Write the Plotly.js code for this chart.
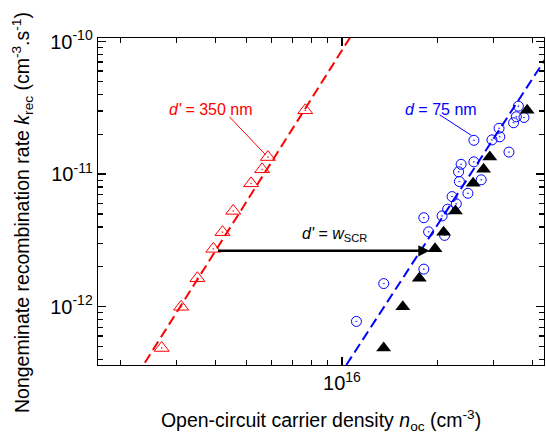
<!DOCTYPE html>
<html><head><meta charset="utf-8">
<script src="https://cdn.plot.ly/plotly-3.0.1.min.js"></script>
<style>html,body{margin:0;padding:0;background:#fff}#chart{width:546px;height:439px}</style>
</head><body><div id="chart"></div>
<script>
// recombination rate (shared by red and black triangle series)
const kRec = [4.88e-13, 9.98e-13, 1.64e-12, 2.73e-12, 3.65e-12, 5.28e-12, 8.52e-12, 1.087e-11, 1.345e-11, 3.03e-11];
// d' = 350 nm (red open triangles)
const nOcThick = [2.70e15, 3.11e15, 3.50e15, 3.93e15, 4.20e15, 4.54e15, 5.17e15, 5.60e15, 5.84e15, 7.66e15];
// d' = w_SCR (black filled triangles)
const nOcScr = [1.354e16, 1.556e16, 1.754e16, 1.967e16, 2.093e16, 2.281e16, 2.593e16, 2.798e16, 2.927e16, 3.840e16];
// d = 75 nm (blue open circles)
const nOcThin = [3.603e16, 3.550e16, 3.752e16, 3.479e16, 3.365e16, 3.131e16, 3.148e16, 2.974e16, 2.608e16, 2.608e16,
                 2.377e16, 2.333e16, 2.347e16, 2.750e16, 2.497e16, 2.226e16, 2.295e16, 2.155e16, 2.070e16, 1.813e16,
                 1.877e16, 2.108e16, 1.813e16, 1.355e16, 1.111e16];
const kRecThin = [3.257e-11, 2.708e-11, 2.676e-11, 2.441e-11, 1.466e-11, 2.218e-11, 1.913e-11, 1.812e-11, 1.799e-11, 1.238e-11,
                  1.186e-11, 1.041e-11, 8.79e-12, 9.06e-12, 7.17e-12, 6.77e-12, 5.97e-12, 5.44e-12, 4.84e-12, 4.69e-12,
                  3.67e-12, 3.45e-12, 1.92e-12, 1.494e-12, 7.74e-13];
// dashed guide lines
const fitThickX = [2.39e15, 1.06e16];
const fitThickY = [3.78e-13, 1.07e-10];
const fitThinX = [1.032e16, 4.40e16];
const fitThinY = [3.63e-13, 7.5e-11];
// label leader lines
const leadRedX = [4.415e15, 5.754e15];
const leadRedY = [2.708e-11, 1.394e-11];
const leadBlueX = [2.033e16, 2.559e16];
const leadBlueY = [2.804e-11, 1.963e-11];
// arrow (tail -> tip)
const arrowX = [4.02e15, 1.89e16];
const arrowY = [2.64e-12, 2.64e-12];
// axis ticks
const xMajor = [1e16];
const xMajorText = ['10<sup>16</sup>'];
const xMinor = [2e15,3e15,4e15,5e15,6e15,7e15,8e15,9e15,2e16,3e16,4e16];
const yMajor = [1e-12, 1e-11, 1e-10];
const yMajorText = ['10<sup>-12</sup>', '10<sup>-11</sup>', '10<sup>-10</sup>'];
const yMinor = [4e-13,5e-13,6e-13,7e-13,8e-13,9e-13,2e-12,3e-12,4e-12,5e-12,6e-12,7e-12,8e-12,9e-12,2e-11,3e-11,4e-11,5e-11,6e-11,7e-11,8e-11,9e-11];

const FONT = 'Arial, "Liberation Sans", sans-serif';
const L = Math.log10;
const XR = [L(1.70e15), L(4.34e16)];
const YR = [-12.440, -9.973];

const traces = [
  {x: fitThickX, y: fitThickY, mode: 'lines', line: {color: '#ff0000', width: 2, dash: '10px,5px'}},
  {x: fitThinX, y: fitThinY, mode: 'lines', line: {color: '#0000ff', width: 2, dash: '10px,5px'}},
  {x: leadRedX, y: leadRedY, mode: 'lines', line: {color: '#ff0000', width: 1}},
  {x: leadBlueX, y: leadBlueY, mode: 'lines', line: {color: '#0000ff', width: 1}},
  {x: nOcThin, y: kRecThin, mode: 'markers', marker: {symbol: 'circle-open-dot', size: 10, color: '#0000ff', line: {width: 1}}},
  {x: nOcScr, y: kRec, mode: 'markers', marker: {symbol: 'triangle-up', size: 13, color: '#000000', line: {width: 0}}},
  {x: nOcThick, y: kRec, mode: 'markers', marker: {symbol: 'triangle-up-open-dot', size: 13, color: '#ff0000', line: {width: 1}}},
  // invisible trace to activate the mirrored top/right axes
  {x: fitThinX, y: fitThinY, xaxis: 'x2', yaxis: 'y2', mode: 'lines', line: {width: 0, color: 'rgba(0,0,0,0)'}}
];

const common = {
  ticks: 'inside', ticklen: 8, tickwidth: 1.3, tickcolor: '#000',
  showline: true, linecolor: '#000', linewidth: 1.3,
  showgrid: false, zeroline: false
};

const layout = {
  width: 546, height: 439,
  margin: {l: 98, r: 2, t: 38, b: 74},
  paper_bgcolor: '#fff', plot_bgcolor: 'rgba(0,0,0,0)',
  showlegend: false,
  font: {family: FONT, color: '#000', size: 20},
  xaxis: Object.assign({}, common, {
    type: 'log', range: XR,
    tickmode: 'array', tickvals: xMajor, ticktext: xMajorText,
    minor: {tickmode: 'array', tickvals: xMinor, ticks: 'inside', ticklen: 5, tickwidth: 1.3, tickcolor: '#000'},
    tickfont: {size: 20, family: FONT},
    title: {text: 'Open-circuit carrier density <i>n</i><sub>oc</sub> (cm<sup>-3</sup>)', font: {size: 19.5, family: FONT}, standoff: 20}
  }),
  yaxis: Object.assign({}, common, {
    type: 'log', range: YR,
    tickmode: 'array', tickvals: yMajor, ticktext: yMajorText,
    minor: {tickmode: 'array', tickvals: yMinor, ticks: 'inside', ticklen: 5, tickwidth: 1.3, tickcolor: '#000'},
    tickfont: {size: 20, family: FONT}
  }),
  xaxis2: Object.assign({}, common, {
    type: 'log', range: XR, overlaying: 'x', side: 'top', anchor: 'y2',
    tickmode: 'array', tickvals: xMajor, showticklabels: false,
    minor: {tickmode: 'array', tickvals: xMinor, ticks: 'inside', ticklen: 5, tickwidth: 1.3, tickcolor: '#000'}
  }),
  yaxis2: Object.assign({}, common, {
    type: 'log', range: YR, overlaying: 'y', side: 'right', anchor: 'x2',
    tickmode: 'array', tickvals: yMajor, showticklabels: false,
    minor: {tickmode: 'array', tickvals: yMinor, ticks: 'inside', ticklen: 5, tickwidth: 1.3, tickcolor: '#000'}
  }),
  annotations: [
    // y-axis title (rotated)
    {xref: 'paper', yref: 'paper', x: (22 - 98) / 446, y: (365 - 213) / 327, xanchor: 'center', yanchor: 'middle',
     textangle: -90, showarrow: false,
     text: 'Nongeminate recombination rate <i>k</i><sub>rec</sub> (cm<sup>-3</sup>.s<sup>-1</sup>)', font: {size: 19.5, family: FONT, color: '#000'}},
    {x: 15.586, y: -10.516, xref: 'x', yref: 'y', text: "<i>d'</i> = 350 nm", showarrow: false, font: {size: 16, color: '#ff0000', family: FONT}},
    {x: 16.3135, y: -10.516, xref: 'x', yref: 'y', text: '<i>d</i> = 75 nm', showarrow: false, font: {size: 16, color: '#0000ff', family: FONT}},
    {x: 15.977, y: -11.455, xref: 'x', yref: 'y', text: "<i>d'</i> = <i>w</i><sub>SCR</sub>", showarrow: false, font: {size: 16, color: '#000', family: FONT}},
    {x: L(arrowX[1]), y: L(arrowY[1]), ax: L(arrowX[0]), ay: L(arrowY[0]), xref: 'x', yref: 'y', axref: 'x', ayref: 'y',
     text: '', showarrow: true, arrowhead: 2, arrowsize: 0.9, arrowwidth: 2.5, arrowcolor: '#000', standoff: 0, startstandoff: 0}
  ]
};

Plotly.newPlot('chart', traces, layout, {staticPlot: true, displayModeBar: false});
</script>
</body></html>
